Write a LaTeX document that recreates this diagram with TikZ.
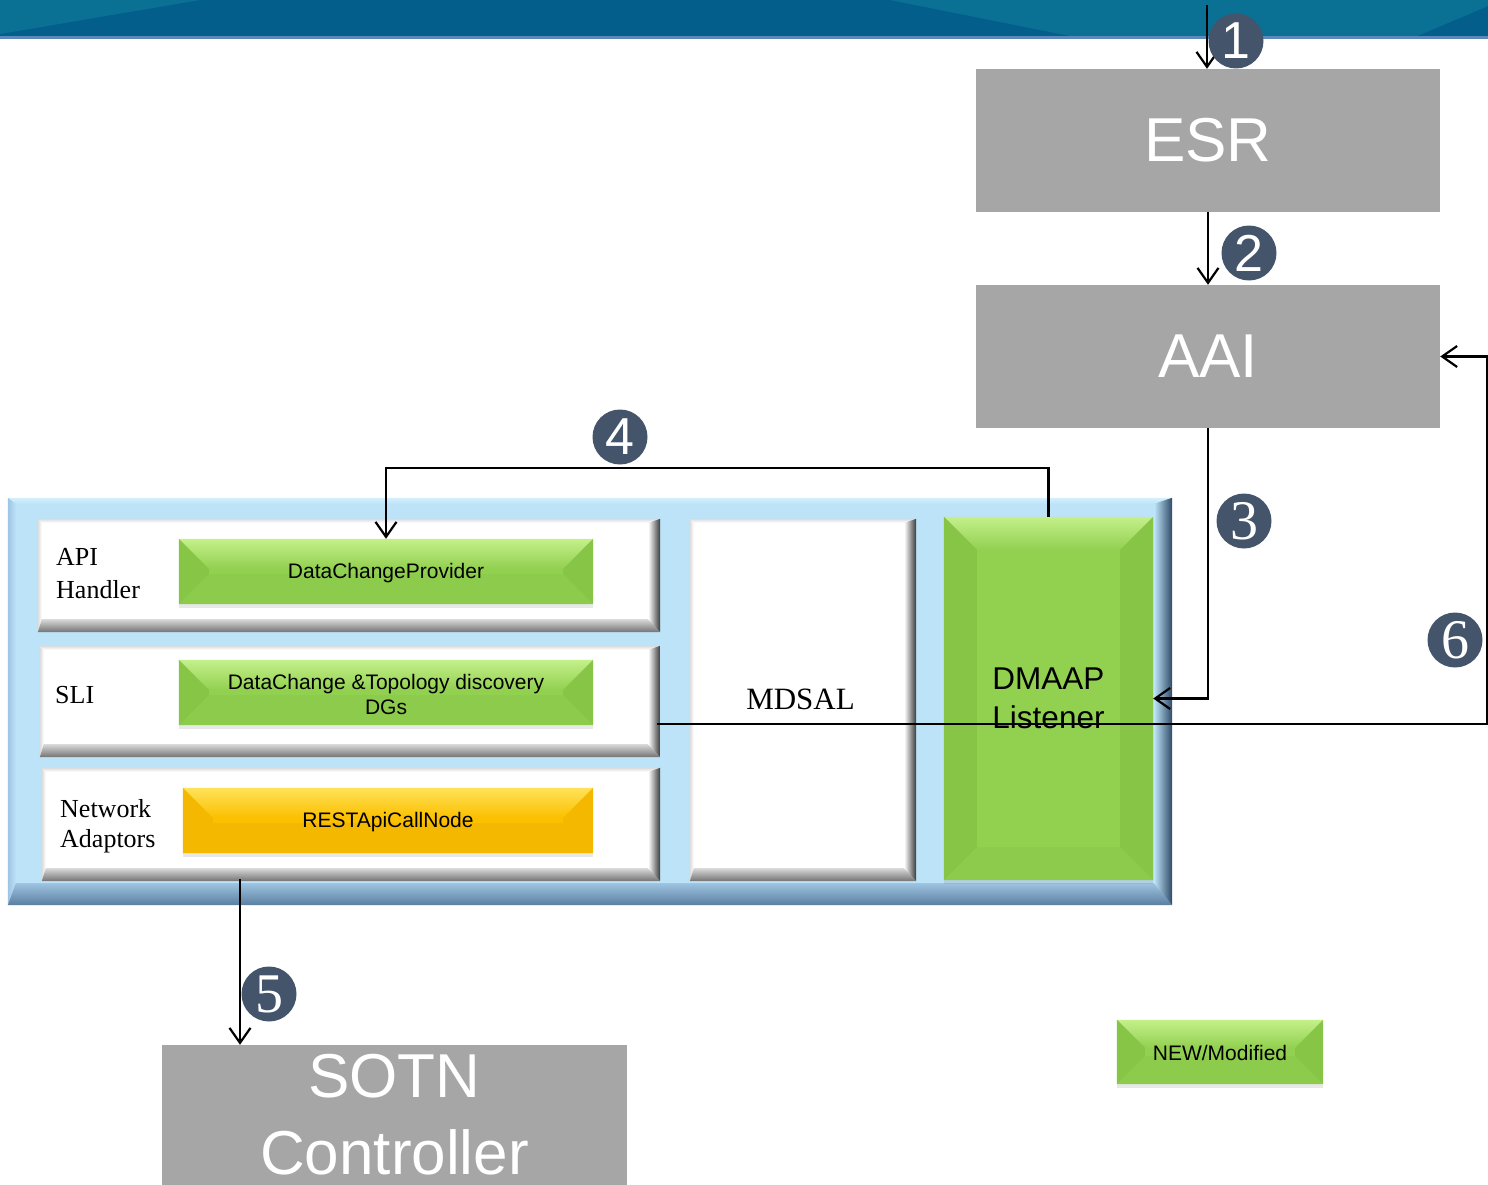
\documentclass[tikz,border=0pt]{standalone}
\usepackage{fontspec}
\setmainfont{Liberation Sans}
\newfontfamily\tnr{Liberation Serif}
\usetikzlibrary{arrows.meta,shadows}
\definecolor{gbox}{HTML}{A6A6A6}
\definecolor{grn}{HTML}{92D050}
\definecolor{grnL}{HTML}{C4F08A}
\definecolor{grnD}{HTML}{86C546}
\definecolor{grnB}{HTML}{8CCB4B}
\definecolor{ylw}{HTML}{FBC000}
\definecolor{ylwL}{HTML}{FFE25A}
\definecolor{ylwD}{HTML}{F4B800}
\definecolor{pblue}{HTML}{BDE3F8}
\definecolor{pblueL}{HTML}{D6F0FD}
\definecolor{pblueE}{HTML}{9DC4E2}
\definecolor{pblueD}{HTML}{2E4966}
\definecolor{pblueB}{HTML}{5B7E9E}
\definecolor{numc}{HTML}{44546A}
\definecolor{banA}{HTML}{045E8B}
\definecolor{banB}{HTML}{0A7194}
\definecolor{banS}{HTML}{5D89BA}
% bevel: name, dl, dt, dr, db, top, left, right, bottom
\newcommand\bvl[9]{%
 \path[#6] (#1.north west) -- (#1.north east) -- ([xshift=-#4pt,yshift=-#3pt]#1.north east) -- ([xshift=#2pt,yshift=-#3pt]#1.north west) -- cycle;
 \path[#7] (#1.north west) -- ([xshift=#2pt,yshift=-#3pt]#1.north west) -- ([xshift=#2pt,yshift=#5pt]#1.south west) -- (#1.south west) -- cycle;
 \path[#9] (#1.south west) -- ([xshift=#2pt,yshift=#5pt]#1.south west) -- ([xshift=-#4pt,yshift=#5pt]#1.south east) -- (#1.south east) -- cycle;
 \path[#8] (#1.north east) -- ([xshift=-#4pt,yshift=-#3pt]#1.north east) -- ([xshift=-#4pt,yshift=#5pt]#1.south east) -- (#1.south east) -- cycle;
}
\newcommand\gbev[2]{\bvl{#1}{#2}{#2}{#2}{#2}{top color=grnL,bottom color=grn}{fill=grnD}{fill=grnD}{fill=grnB}}
\newcommand\ybev[2]{\bvl{#1}{#2}{#2}{#2}{#2}{top color=ylwL,bottom color=ylw}{fill=ylwD}{fill=ylwD}{fill=ylwD}}
\newcommand\wbev[1]{\bvl{#1}{4}{4}{12}{13}{top color=black!14,bottom color=white}{left color=black!14,right color=white}{left color=white,right color=black!78}{top color=black!15,bottom color=black!55}}
\tikzset{
 bx/.style={rectangle, inner sep=0pt, draw=none},
 graybox/.style={bx, fill=gbox, text=white, font=\fontsize{62}{77}\selectfont, align=center},
 gshad/.style={drop shadow={opacity=0.18, shadow xshift=0pt, shadow yshift=-4pt}},
 conn/.style={line width=2.2pt, -{Straight Barb[length=15pt,width=21pt]}},
 num/.style={circle, fill=numc, text=white, minimum size=55pt, inner sep=0pt, font=\fontsize{52}{52}\selectfont},
 numserif/.style={num, font=\tnr\fontsize{56}{56}\selectfont},
 lbl/.style={font=\tnr\fontsize{26}{33}\selectfont, align=left, inner sep=0pt},
 btxt/.style={font=\fontsize{21}{25}\selectfont, align=center, inner sep=0pt},
}
\begin{document}
\begin{tikzpicture}[x=1pt,y=-1pt]
\useasboundingbox (0,0) rectangle (1488,1185);
% banner
\fill[banA] (0,0) rectangle (1488,37);
\fill[banB] (0,0) -- (200,0) -- (0,34) -- cycle;
\fill[banB] (890,0) -- (1488,0) -- (1488,6) -- (1415,37) -- (1075,37) -- cycle;
\fill[banS] (0,36) rectangle (1488,39.5);

% gray boxes
\node[graybox, minimum width=464pt, minimum height=143pt] (esr) at (1208,140.5) {ESR};
\node[graybox, minimum width=464pt, minimum height=143pt] (aai) at (1208,356.5) {AAI};
\node[bx, fill=gbox, minimum width=465pt, minimum height=142pt] (sotn) at (394.5,1116) {};
\node[font=\fontsize{62}{77}\selectfont, text=white, align=center, inner sep=0pt] (sotnt) at (394.5,1115) {SOTN\\Controller};

% outer blue panel
\node[bx, fill=pblue, minimum width=1164pt, minimum height=407pt] (outer) at (590,701.5) {};
\bvl{outer}{8}{6}{18}{22}{top color=pblueL,bottom color=pblue}{left color=pblueE,right color=pblue}{left color=pblue,right color=pblueD}{top color=pblueE,bottom color=pblueB}

% white panels
\node[bx, fill=white, minimum width=622pt, minimum height=113pt] (p1) at (349,575.5) {};
\node[bx, fill=white, minimum width=620pt, minimum height=111pt] (p2) at (350,701.5) {};
\node[bx, fill=white, minimum width=618pt, minimum height=113pt] (p3) at (351,824.5) {};
\node[bx, fill=white, minimum width=226pt, minimum height=362pt] (mdsal) at (803,700) {};
\wbev{p1}\wbev{p2}\wbev{p3}\wbev{mdsal}

% green / yellow boxes
\node[bx, fill=grn, gshad, minimum width=414pt, minimum height=65pt] (dcp) at (386,571.5) {};
\gbev{dcp}{30}
\node[bx, fill=grn, gshad, minimum width=414pt, minimum height=65pt] (dgs) at (386,692.5) {};
\gbev{dgs}{30}
\node[bx, fill=ylw, gshad, minimum width=410pt, minimum height=65pt] (rest) at (388,820.5) {};
\ybev{rest}{30}
\node[bx, fill=grn, gshad, minimum width=209pt, minimum height=363pt] (dmaap) at (1048.5,698.5) {};
\gbev{dmaap}{33}
\node[bx, fill=grn, gshad, minimum width=206pt, minimum height=64pt] (legend) at (1220,1052) {};
\gbev{legend}{28}

% texts
\node[btxt] (dcpt) at (386,573) {DataChangeProvider};
\node[btxt] (dgst) at (386,694) {DataChange \&Topology discovery\\DGs};
\node[btxt] (restt) at (388,822) {RESTApiCallNode};
\node[btxt] (legendt) at (1220,1053) {NEW/Modified};
\node[font=\fontsize{31.5}{39}\selectfont, align=left, inner sep=0pt] (dmaapt) at (1048.5,698) {DMAAP\\Listener};
\node[font=\tnr\fontsize{31}{31}\selectfont, inner sep=0pt] (mdsalt) at (800.5,699) {MDSAL};
\node[lbl, anchor=north west] (apit) at (56,548) {API\\Handler};
\node[lbl, anchor=west] (slit) at (55,695) {SLI};
\node[lbl, anchor=north west, font=\tnr\fontsize{26}{30}\selectfont] (nett) at (60,799) {Network\\Adaptors};

% connectors
\coordinate (c1) at (1207,5);
\draw[conn] (c1) -- (c1 |- esr.north);
\draw[conn] (esr.south) -- (aai.north);
\draw[conn] (aai.south) |- (dmaap.east);
\coordinate (k4) at (1048.5,468);
\draw[conn] (dmaap.north) -- (k4) -| (dcp.north);
\coordinate (c5) at (240,879);
\draw[conn] (c5) -- (c5 |- sotn.north);
\coordinate (c6) at (657,724);
\coordinate (k6) at (1487,724);
\draw[conn] (c6) -- (k6) |- (aai.east);

% numbers
\node[num] (n1) at (1236,41) {1};
\node[num] (n2) at (1249,253) {2};
\node[numserif] (n3) at (1244,521) {3};
\node[num] (n4) at (620,437) {4};
\node[numserif] (n5) at (269,994) {5};
\node[numserif] (n6) at (1455,640) {6};
\end{tikzpicture}
\end{document}
